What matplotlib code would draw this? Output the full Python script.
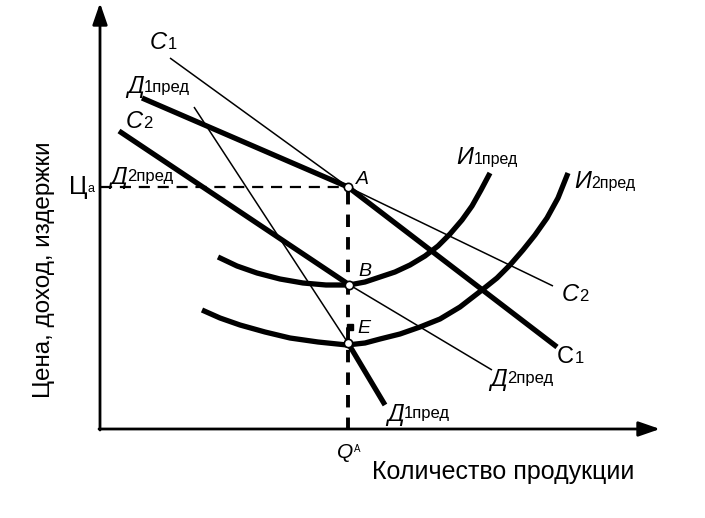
import matplotlib
matplotlib.use("Agg")
import matplotlib.pyplot as plt

# ---- data (pixel-like coordinates) ----
# supply line C1: thin upper part, thick lower part
c1_thin_x = [170, 348]
c1_thin_y = [58, 187]
c1_thick_x = [348, 557]
c1_thick_y = [187, 347]
# Д1пред (upper, thick) continuing as thin line towards C2 label
d1top_thick_x = [142, 348]
d1top_thick_y = [98, 187]
d1top_thin_x = [348, 553]
d1top_thin_y = [187, 286]
# C2 thick, continuing thin toward Д2пред
c2_thick_x = [119, 348]
c2_thick_y = [131, 284]
c2_thin_x = [348, 492]
c2_thin_y = [284, 370]
# steep Д1пред: thin upper, thick lower
d1s_thin_x = [194, 348]
d1s_thin_y = [107, 343]
d1s_thick_x = [348, 385]
d1s_thick_y = [343, 405]
# cost curves
i1_x = [218, 237, 257, 280, 303, 326, 349, 365, 380, 395, 410, 425, 438, 450, 462, 472, 481, 490]
i1_y = [257, 266, 273, 279, 283, 285, 285, 282, 277, 272, 265, 256, 246, 234, 220, 206, 190, 173]
i2_x = [202, 220, 240, 265, 290, 318, 347, 365, 380, 400, 420, 440, 460, 482, 497, 510, 523, 535, 547, 558, 568]
i2_y = [310, 318, 325, 332, 338, 342, 345, 343, 339, 334, 327, 319, 307, 290, 278, 265, 250, 235, 218, 198, 173]

pt_A = (348, 187)
pt_B = (349, 285)
pt_low = (348, 343)
pt_E = (350, 327)
price_y = 187
qa_x = 348

fig = plt.figure(figsize=(7.05, 5.18), dpi=100)
ax = fig.add_axes([0, 0, 1, 1])
ax.set_xlim(0, 705)
ax.set_ylim(518, 0)
ax.axis("off")

K = "black"
THICK = 3.8
THIN = 1.1

# axes
ax.annotate("", xy=(100, 3), xytext=(100, 430),
            arrowprops=dict(arrowstyle="-|>,head_length=1.3,head_width=0.45", lw=2, color=K,
                            shrinkA=0, shrinkB=0))
ax.annotate("", xy=(660, 429), xytext=(99, 429),
            arrowprops=dict(arrowstyle="-|>,head_length=1.3,head_width=0.45", lw=2, color=K,
                            shrinkA=0, shrinkB=0))

# dashed guide lines
ax.plot([101, pt_A[0]], [price_y, price_y], color=K, lw=1.6, dashes=(5, 3.5))
ax.plot([qa_x, qa_x], [192, 429], color=K, lw=2.8, dashes=(3.2, 2.6))

# lines
ax.plot(c1_thin_x, c1_thin_y, color=K, lw=THIN, solid_capstyle="butt")
ax.plot(c1_thick_x, c1_thick_y, color=K, lw=THICK, solid_capstyle="butt")
ax.plot(d1top_thick_x, d1top_thick_y, color=K, lw=THICK, solid_capstyle="butt")
ax.plot(d1top_thin_x, d1top_thin_y, color=K, lw=THIN, solid_capstyle="butt")
ax.plot(c2_thick_x, c2_thick_y, color=K, lw=THICK, solid_capstyle="butt")
ax.plot(c2_thin_x, c2_thin_y, color=K, lw=THIN, solid_capstyle="butt")
ax.plot(d1s_thin_x, d1s_thin_y, color=K, lw=THIN, solid_capstyle="butt")
ax.plot(d1s_thick_x, d1s_thick_y, color=K, lw=THICK, solid_capstyle="butt")
ax.plot(i1_x, i1_y, color=K, lw=THICK, solid_joinstyle="round", solid_capstyle="butt")
ax.plot(i2_x, i2_y, color=K, lw=THICK, solid_joinstyle="round", solid_capstyle="butt")

# points
for p in (pt_A, pt_B, pt_low):
    ax.plot(*p, marker="o", ms=6, mfc="white", mec=K, mew=1.2, zorder=5)
ax.plot(*pt_E, marker="s", ms=5, color=K, zorder=5)

FONT = "Liberation Sans"
fig.canvas.draw()
renderer = fig.canvas.get_renderer()


def label(x, y, main, sub="", size=17, subsize=12, italic=True, dy=0):
    t = ax.text(x, y, main, fontsize=size, family=FONT,
                style="italic" if italic else "normal", ha="left", va="baseline", color=K)
    if sub:
        bb = t.get_window_extent(renderer=renderer)
        inv = ax.transData.inverted()
        xr, _ = inv.transform((bb.x1, bb.y0))
        ax.text(xr + 0.5, y + dy, sub, fontsize=subsize, family=FONT,
                ha="left", va="baseline", color=K)


label(150, 49, "C", "1", size=17, subsize=12, dy=0)
label(127, 93, "Д", "1пред", size=17, subsize=12, dy=-1)
label(126, 128, "C", "2", size=17, subsize=12, dy=0)
label(110, 184, "Д", "2пред", size=17, subsize=12, dy=-3)
label(356, 184, "A", size=14)
label(358, 276, "B", size=14)
label(357, 333, "E", size=14)
label(456, 164, "И", "1пред", size=17, subsize=11.5, dy=0)
label(574, 188, "И", "2пред", size=17, subsize=11.5, dy=0)
label(562, 301, "C", "2", size=17, subsize=12)
label(557, 363, "C", "1", size=17, subsize=12, italic=False)
label(490, 386, "Д", "2пред", size=17, subsize=12, dy=-3)
label(387, 421, "Д", "1пред", size=17, subsize=12, dy=-3)
label(337, 458, "Q", "A", size=15, subsize=7, dy=-6)
label(69, 194, "Ц", "a", size=18, subsize=9, italic=False, dy=-2)

ax.text(372, 479, "Количество продукции", fontsize=18, family=FONT, ha="left",
        va="baseline", color=K)
ax.text(44, 270, "Цена, доход, издержки", fontsize=17.5, family=FONT, rotation=90,
        ha="center", va="center", color=K)

fig.savefig("out.png", dpi=100)
